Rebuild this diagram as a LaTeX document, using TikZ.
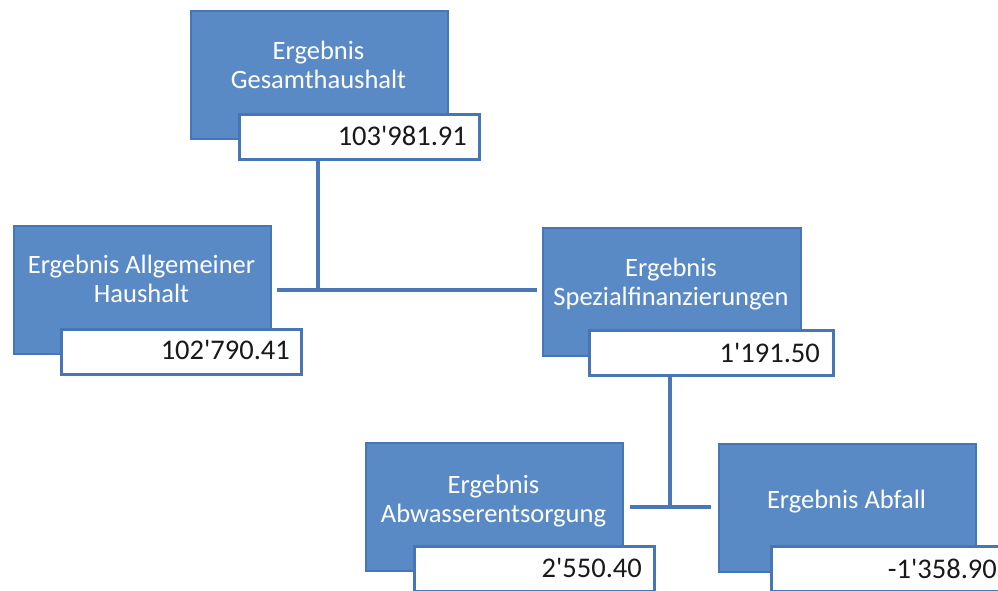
\documentclass[tikz,border=0pt]{standalone}
\usepackage{fontspec}
\setmainfont{Carlito}
\newfontfamily\valfont{Carlito}
\definecolor{boxblue}{RGB}{90,138,198}
\definecolor{boxedge}{RGB}{70,118,182}
\definecolor{lineblue}{RGB}{72,120,182}
\tikzset{
  blk/.style={fill=boxblue, draw=boxedge, line width=1.5pt, anchor=north west, inner sep=0pt, minimum width=#1, minimum height=128pt},
  valbox/.style={fill=white, draw=boxedge, line width=3pt, anchor=north west, inner sep=0pt, minimum width=#1, minimum height=45pt},
  lbl/.style={text=white, align=center, anchor=base, inner sep=0pt, font=\fontsize{26.5}{29}\selectfont},
  val/.style={text=black!90, anchor=base east, inner sep=0pt, font=\valfont\fontsize{28.5}{32}\selectfont},
  conn/.style={draw=lineblue, line width=4.5pt}
}
\begin{document}
\begin{tikzpicture}[x=1pt,y=-1pt]
\useasboundingbox (0,0) rectangle (998,590);
% top
\node[blk=257pt] (top) at (190,10) {};
\node[valbox=240pt] (topval) at (238,113) {};
\node[lbl] (toplbl) at (318.5,88) {Ergebnis\\Gesamthaushalt};
\node[val] (topnum) at (467,145) {103'981.91};
% left
\node[blk=257pt] (left) at (13,225) {};
\node[valbox=240pt] (leftval) at (60,328) {};
\node[lbl] (leftlbl) at (141.5,302) {Ergebnis Allgemeiner\\Haushalt};
\node[val] (leftnum) at (290,359) {102'790.41};
% right
\node[blk=258pt] (right) at (542,227) {};
\node[valbox=244pt] (rightval) at (588,329) {};
\node[lbl] (rightlbl) at (671,305) {Ergebnis\\Spezialfinanzierungen};
\node[val] (rightnum) at (820,362) {1'191.50};
% Abwasser
\node[blk=257pt] (abw) at (365,442) {};
\node[valbox=240pt] (abwval) at (413,545) {};
\node[lbl] (abwlbl) at (493.5,522) {Ergebnis\\Abwasserentsorgung};
\node[val] (abwnum) at (642,577) {2'550.40};
% Abfall
\node[blk=257pt] (abf) at (718,443) {};
\node[valbox=240pt] (abfval) at (770,545) {};
\node[lbl] (abflbl) at (846.5,508) {Ergebnis Abfall};
\node[val] (abfnum) at (997,578) {-1'358.90};
% connectors
\coordinate (j1) at (318,290);
\coordinate (j2) at (670,507);
\draw[conn] (j1 |- topval.south) -- (j1);
\draw[conn, shorten <=5pt, shorten >=5pt] (left.east |- j1) -- (right.west |- j1);
\draw[conn] (j2 |- rightval.south) -- (j2);
\draw[conn, shorten <=6pt, shorten >=7pt] (abw.east |- j2) -- (abf.west |- j2);
\end{tikzpicture}
\end{document}
